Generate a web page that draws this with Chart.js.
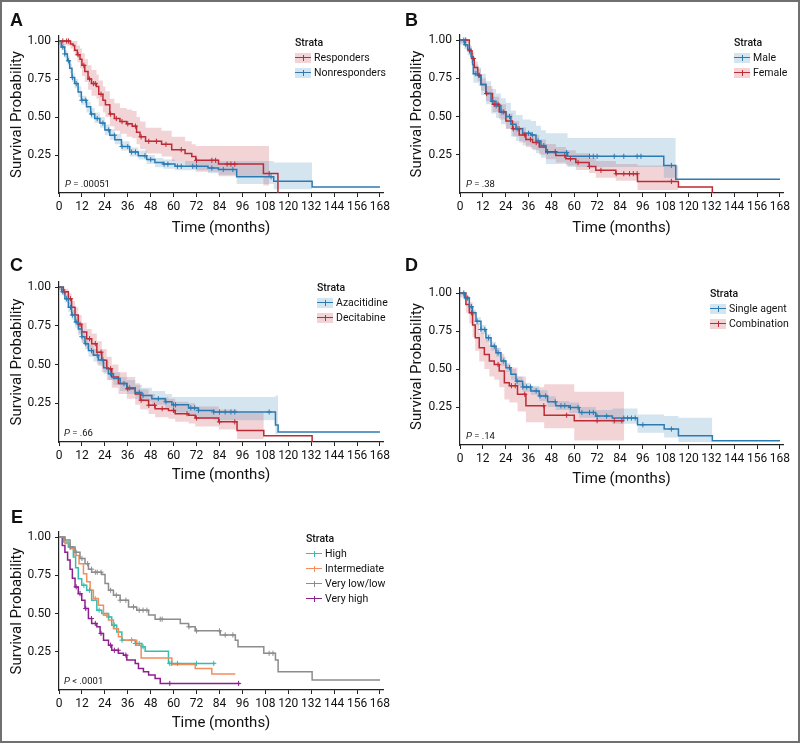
<!DOCTYPE html>
<html>
<head>
<meta charset="utf-8">
<script src="https://cdn.jsdelivr.net/npm/chart.js@4.4.1/dist/chart.umd.min.js"></script>
<style>
html, body { margin: 0; padding: 0; background: #fff; }
#fig { position: relative; width: 800px; height: 743px; overflow: hidden; font-family: Roboto, "Liberation Sans", Arial, sans-serif; color: #111; }
#frame { position: absolute; left: 0; top: 0; width: 800px; height: 743px; box-sizing: border-box; border: 2px solid #707070; pointer-events: none; }
canvas { position: absolute; }
.letter { position: absolute; font: bold 18px "Liberation Sans", Arial, sans-serif; line-height: 18px; }
.pv { position: absolute; font-size: 9.5px; line-height: 10px; }
.leg { position: absolute; font-size: 10.5px; line-height: 15px; white-space: nowrap; }
.leg .t { font-weight: 500; }
.key { display: inline-block; position: relative; width: 16px; height: 10px; vertical-align: -2px; margin-right: 3px; }
.key i { position: absolute; left: 0; right: 0; top: 4.3px; height: 1.4px; }
.key b { position: absolute; left: 7.5px; width: 1px; top: 2px; height: 6px; }
</style>
</head>
<body>
<div id="fig">
  <canvas id="cA" width="400" height="237" style="left:0;top:0"></canvas>
  <canvas id="cB" width="400" height="237" style="left:400px;top:0"></canvas>
  <canvas id="cC" width="400" height="234" style="left:0;top:250px"></canvas>
  <canvas id="cD" width="400" height="238" style="left:400px;top:250px"></canvas>
  <canvas id="cE" width="400" height="232" style="left:0;top:500px"></canvas>
  <div id="frame"></div>
</div>
<script>
// axis ticks
const xTicks = [0, 12, 24, 36, 48, 60, 72, 84, 96, 108, 120, 132, 144, 156, 168];
const yTicks = [0.25, 0.5, 0.75, 1.0];

// A: response
const respT = [0, 6, 7.4, 8.2, 9.6, 11, 12, 13.5, 15.2, 17, 19.6, 20.8, 23, 24.3, 26.6, 29, 31.9, 35.4, 38.3, 40.6, 42.4, 45.3, 53.7, 59, 66, 69.5, 71.6, 83.5, 107, 114.6];
const respS = [1, .98, .97, .94, .91, .88, .84, .80, .75, .72, .70, .65, .61, .58, .52, .49, .47, .455, .44, .40, .37, .34, .32, .285, .26, .24, .215, .19, .128, 0];
const respLo = [.97, .95, .93, .90, .86, .82, .77, .73, .68, .64, .62, .57, .53, .50, .44, .41, .39, .37, .36, .32, .29, .26, .24, .21, .18, .16, .14, .11, .05, 0];
const respHi = [1, 1, 1, 1, .97, .95, .92, .88, .84, .81, .78, .74, .70, .67, .62, .59, .56, .55, .54, .50, .47, .43, .41, .37, .34, .32, .31, .31, .31, 0];
const respCens = [2, 4, 5, 10, 13, 16, 18, 19, 22, 27, 30, 33, 36, 40, 43, 47, 51, 56, 64, 72, 80, 82, 88, 90, 92, 110];
const nonT = [0, 1.2, 3, 4.4, 5.6, 6.8, 8.2, 10, 11.7, 14.4, 16.6, 18.7, 21.4, 24, 26.6, 29.2, 32.7, 37, 41.5, 45.9, 50.2, 54.6, 60.7, 78, 83.5, 93, 112.4, 132.5, 168];
const nonS = [1, .96, .915, .87, .82, .76, .72, .665, .61, .567, .52, .49, .46, .415, .38, .35, .306, .27, .245, .22, .20, .19, .176, .165, .155, .107, .078, .04, .04];
const nonLo = [.98, .94, .89, .84, .79, .73, .69, .63, .58, .53, .49, .46, .43, .38, .35, .32, .28, .24, .22, .19, .17, .16, .15, .13, .12, .06, .025, 0, 0];
const nonHi = [1, .98, .94, .90, .85, .79, .75, .70, .64, .60, .56, .53, .50, .45, .42, .39, .34, .30, .28, .25, .23, .22, .21, .21, .21, .21, .20, 0, 0];
const nonCens = [2, 3, 5, 7, 9, 12, 14, 17, 20, 23, 26, 29, 33, 36, 38, 40, 45, 48, 55, 57, 62, 64, 70, 72, 80, 86, 91, 111];

// B: sex
const maleT = [0, 2.3, 4, 5.8, 6.6, 7, 9.8, 11, 13.6, 16.3, 18.9, 21.5, 24.1, 26.7, 29.4, 32.9, 37.2, 39.9, 42.5, 45.1, 56.5, 107, 113.3, 168];
const maleS = [1, .97, .94, .89, .84, .78, .76, .71, .65, .60, .57, .53, .50, .45, .42, .39, .38, .34, .31, .265, .24, .18, .09, .09];
const maleLo = [.97, .94, .90, .85, .79, .72, .70, .64, .58, .52, .49, .45, .42, .37, .34, .31, .29, .26, .23, .19, .17, .10, 0, 0];
const maleHi = [1, .99, .97, .93, .89, .84, .82, .78, .73, .68, .65, .62, .59, .54, .51, .48, .47, .44, .41, .39, .36, .36, 0, 0];
const maleCens = [2, 3, 8, 9, 17, 19, 22, 26, 30, 36, 38, 41, 44, 56, 68, 70, 72, 81, 86, 93, 95, 111];
const femT = [0, 4.9, 6.3, 7.5, 9.3, 11, 13.6, 17.1, 20.6, 24.1, 27.6, 31.1, 34.6, 38.1, 41.6, 45.1, 50.3, 55.6, 60.8, 67.8, 71.3, 81.8, 93.2, 114.7, 132.5];
const femS = [1, .93, .88, .82, .77, .71, .65, .58, .53, .47, .42, .38, .35, .33, .30, .27, .245, .224, .20, .174, .148, .126, .076, .04, 0];
const femLo = [.98, .90, .85, .79, .73, .67, .60, .53, .48, .42, .37, .33, .30, .28, .25, .22, .20, .18, .15, .13, .10, .08, .02, 0, 0];
const femHi = [1, .96, .92, .86, .81, .75, .70, .63, .58, .52, .47, .43, .40, .38, .35, .32, .30, .28, .26, .23, .21, .19, .18, 0, 0];
const femCens = [3, 5, 7, 10, 14, 18, 20, 23, 28, 31, 34, 37, 40, 46, 50, 55, 58, 62, 68, 74, 82, 86, 89, 91, 93, 111];

// C: agent
const azaT = [0, 1.4, 3.1, 4.9, 6.6, 8.4, 10.1, 11.9, 13.6, 15.4, 18, 20.6, 23.3, 25.9, 28.5, 32, 35.5, 39.9, 43.4, 48.6, 55.6, 59.1, 67.8, 73, 81, 113.3, 114.7, 168];
const azaS = [1, .97, .925, .87, .82, .775, .73, .68, .635, .59, .56, .53, .48, .44, .41, .377, .35, .32, .30, .28, .26, .24, .22, .204, .194, .11, .065, .065];
const azaLo = [.98, .95, .90, .84, .79, .74, .69, .64, .60, .55, .52, .49, .44, .40, .37, .33, .31, .28, .26, .24, .22, .19, .17, .15, .14, .05, 0, 0];
const azaHi = [1, .99, .95, .90, .85, .81, .77, .72, .67, .63, .60, .57, .52, .48, .45, .42, .40, .37, .35, .33, .31, .29, .29, .29, .29, .30, 0, 0];
const azaCens = [2, 4, 6, 7, 9, 12, 14, 17, 20, 23, 27, 34, 37, 42, 44, 52, 56, 60, 61, 69, 71, 73, 81, 84, 87, 90, 92, 110];
const deciT = [0, 2.3, 4.9, 6.6, 8.4, 10.1, 11.9, 14.5, 17.1, 19.8, 22.4, 25, 27.6, 31.1, 35.5, 39.9, 42.5, 46.9, 50.3, 57.3, 60.8, 67.8, 71.3, 83.6, 93.2, 107.2, 132.5];
const deciS = [1, .97, .925, .87, .82, .76, .71, .667, .635, .58, .527, .473, .42, .377, .344, .31, .27, .237, .215, .204, .183, .172, .155, .13, .075, .04, 0];
const deciLo = [.98, .94, .89, .82, .76, .70, .64, .60, .56, .50, .45, .40, .35, .31, .28, .24, .21, .18, .16, .15, .13, .12, .10, .08, .02, 0, 0];
const deciHi = [1, .99, .96, .91, .87, .82, .77, .73, .70, .65, .60, .55, .50, .45, .42, .38, .34, .31, .29, .28, .26, .25, .23, .21, .19, 0, 0];
const deciCens = [3, 6, 11, 16, 19, 22, 27, 36, 43, 47, 50, 54, 60, 67, 72, 84, 92];

// D: regimen
const singleT = [0, 2.3, 4.9, 6.6, 8.4, 11, 13.6, 16.3, 18.9, 21.5, 24.1, 26.7, 29.4, 32.9, 37.2, 41.6, 46, 50.3, 57.3, 62.6, 71.3, 80, 93.2, 107.2, 114.7, 132.5, 168];
const singleS = [1, .967, .91, .87, .815, .76, .705, .65, .607, .552, .509, .465, .42, .382, .356, .323, .284, .258, .247, .214, .19, .177, .133, .105, .061, .028, .028];
const singleLo = [.985, .95, .89, .85, .79, .73, .68, .62, .58, .52, .48, .43, .39, .35, .33, .29, .25, .23, .21, .18, .16, .14, .08, .05, .02, 0, 0];
const singleHi = [1, .98, .93, .89, .84, .79, .73, .68, .64, .58, .54, .50, .45, .41, .39, .36, .32, .29, .28, .25, .23, .24, .20, .19, .18, 0, 0];
const singleCens = [2, 4, 6, 9, 11, 13, 15, 18, 20, 23, 26, 30, 33, 35, 37, 40, 42, 45, 50, 53, 55, 58, 62, 64, 68, 70, 72, 77, 86, 88, 90, 92, 96, 111];
const combT = [0, 3.1, 4.9, 6.6, 8, 10.1, 12.8, 15.4, 18, 20.6, 23.3, 25.9, 30.2, 34.6, 44.2, 60, 86.2];
const combS = [1, .924, .87, .79, .705, .64, .596, .552, .53, .487, .41, .39, .334, .258, .196, .16, .16];
const combLo = [.97, .87, .80, .71, .62, .55, .50, .45, .43, .38, .30, .28, .22, .15, .11, .03, .03];
const combHi = [1, .98, .94, .88, .80, .74, .70, .66, .64, .60, .53, .51, .45, .38, .40, .35, .35];
const combCens = [6, 20, 27, 29, 34, 44, 56, 72, 81, 85];

// E: risk group
const highT = [0, 2.3, 4.9, 7.5, 8.7, 10.1, 11.9, 14.5, 17.1, 19.8, 22.4, 25.9, 27.6, 30.2, 32.9, 39.9, 43.4, 45.1, 57.3, 81.8];
const highS = [1, .967, .935, .87, .80, .728, .685, .652, .587, .522, .50, .478, .424, .38, .326, .304, .283, .254, .174, .174];
const highCens = [13, 16, 21, 26, 29, 33, 38, 40, 42, 44, 58, 59, 62, 72, 81];
const interT = [0, 3.1, 5.8, 8.4, 10.5, 12.8, 14.5, 16.3, 18, 20.6, 23.3, 25.9, 28.5, 31.1, 32.9, 40.7, 43, 59.1, 71.3, 80, 92.3];
const interS = [1, .957, .924, .88, .826, .76, .707, .652, .598, .554, .489, .457, .40, .348, .326, .293, .21, .167, .14, .104, .104];
const interCens = [19, 25, 38];
const lowT = [0, 3.1, 5.8, 8.4, 11, 13.6, 15.4, 17.1, 22.4, 24.1, 25.9, 28.5, 32, 36.4, 40.7, 46.9, 50.3, 63.5, 67.8, 71.3, 84.4, 92.3, 93.7, 107.2, 113.3, 114.7, 132.5, 168];
const lowS = [1, .98, .935, .90, .86, .826, .79, .77, .755, .696, .652, .62, .587, .543, .522, .49, .463, .435, .413, .387, .36, .326, .283, .24, .196, .12, .065, .065];
const lowCens = [6, 9, 12, 15, 17, 19, 20, 22, 27, 30, 32, 35, 39, 42, 44, 46, 53, 54, 68, 72, 84, 87, 91, 110, 112];
const vhighT = [0, 1.7, 3.1, 4.5, 5.8, 7, 8.4, 10.1, 11.9, 13.6, 15.4, 17.1, 19.8, 21.5, 23.3, 25.9, 27.6, 31.1, 33.7, 35.5, 39.9, 41.6, 44.2, 46.9, 50.3, 53, 94.9];
const vhighS = [1, .945, .90, .85, .79, .73, .674, .63, .587, .533, .467, .435, .413, .37, .326, .293, .26, .24, .228, .196, .174, .14, .12, .098, .076, .043, .043];
const vhighCens = [9, 11, 14, 17, 19, 22, 27, 29, 31, 35, 58, 94];

const RED = '#BE2A35', RED_BAND = 'rgba(190,42,53,0.2)';
const BLUE = '#2B7BB3', BLUE_BAND = 'rgba(43,123,179,0.2)';

function stepAt(T, S, t) {
  let v = S[0];
  for (let i = 0; i < T.length; i++) { if (T[i] <= t) v = S[i]; else break; }
  return v;
}

function curveSets(c) {
  const sets = [];
  if (c.lo) {
    const lo = [], hi = [];
    for (let i = 0; i < c.T.length && c.T[i] < c.ciEnd; i++) {
      lo.push({ x: c.T[i], y: c.lo[i] });
      hi.push({ x: c.T[i], y: c.hi[i] });
    }
    lo.push({ x: c.ciEnd, y: lo[lo.length - 1].y });
    hi.push({ x: c.ciEnd, y: hi[hi.length - 1].y });
    sets.push({ data: lo, borderColor: 'rgba(0,0,0,0)', borderWidth: 1, pointRadius: 0, fill: false, stepped: 'before', order: 10 });
    sets.push({ data: hi, borderColor: 'rgba(0,0,0,0)', borderWidth: 1, pointRadius: 0, fill: '-1', backgroundColor: c.band, stepped: 'before', order: 10 });
  }
  sets.push({ data: c.T.map((t, i) => ({ x: t, y: c.S[i] })), borderColor: c.color, borderWidth: 1.5, pointRadius: 0, fill: false, stepped: 'before', order: 5 });
  sets.push({ data: c.cens.map(t => ({ x: t, y: stepAt(c.T, c.S, t) })), showLine: false, pointStyle: 'cross', pointRadius: 2.6,
              pointBorderColor: c.color, pointBorderWidth: 1, pointBackgroundColor: c.color, borderColor: c.color, order: 1 });
  return sets;
}

function makePanel(id, curves, padTop, yWidth, xHeight) {
  const datasets = [];
  curves.forEach(c => datasets.push(...curveSets(c)));
  new Chart(document.getElementById(id), {
    type: 'line',
    data: { datasets },
    options: {
      responsive: false, animation: false, devicePixelRatio: 1,
      layout: { padding: { left: 8, right: 17, top: padTop, bottom: 0 } },
      plugins: { legend: { display: false }, tooltip: { enabled: false } },
      events: [],
      scales: {
        x: {
          type: 'linear', min: 0, max: 169.6,
          afterBuildTicks: s => { s.ticks = xTicks.map(v => ({ value: v })); },
          afterFit: s => { s.height = xHeight; },
          ticks: { autoSkip: false, maxRotation: 0, padding: 3, color: '#111', font: { size: 12, family: 'Roboto' }, callback: v => String(v) },
          grid: { drawOnChartArea: false, drawTicks: true, tickLength: 4, color: '#222', lineWidth: 1 },
          border: { display: true, color: '#222', width: 1.2 },
          title: { display: true, text: 'Time (months)', color: '#111', font: { size: 15, family: 'Roboto' }, padding: 0 }
        },
        y: {
          type: 'linear', min: 0, max: 1.033,
          afterBuildTicks: s => { s.ticks = yTicks.map(v => ({ value: v })); },
          afterFit: s => { s.width = yWidth; },
          ticks: { padding: 4, color: '#111', font: { size: 12, family: 'Roboto' }, callback: v => v.toFixed(2) },
          grid: { drawOnChartArea: false, drawTicks: true, tickLength: 4, color: '#222', lineWidth: 1 },
          border: { display: true, color: '#222', width: 1.2 },
          title: { display: true, text: 'Survival Probability', color: '#111', font: { size: 15, family: 'Roboto' }, padding: 0 }
        }
      }
    }
  });
}

makePanel('cA', [
  { T: nonT, S: nonS, lo: nonLo, hi: nonHi, ciEnd: 132.5, cens: nonCens, color: BLUE, band: BLUE_BAND },
  { T: respT, S: respS, lo: respLo, hi: respHi, ciEnd: 110, cens: respCens, color: RED, band: RED_BAND }
], 36, 51, 44);
makePanel('cB', [
  { T: maleT, S: maleS, lo: maleLo, hi: maleHi, ciEnd: 113.3, cens: maleCens, color: BLUE, band: BLUE_BAND },
  { T: femT, S: femS, lo: femLo, hi: femHi, ciEnd: 114.7, cens: femCens, color: RED, band: RED_BAND }
], 35, 52, 44);
makePanel('cC', [
  { T: azaT, S: azaS, lo: azaLo, hi: azaHi, ciEnd: 114.7, cens: azaCens, color: BLUE, band: BLUE_BAND },
  { T: deciT, S: deciS, lo: deciLo, hi: deciHi, ciEnd: 107.2, cens: deciCens, color: RED, band: RED_BAND }
], 32, 51, 42);
makePanel('cD', [
  { T: singleT, S: singleS, lo: singleLo, hi: singleHi, ciEnd: 132.5, cens: singleCens, color: BLUE, band: BLUE_BAND },
  { T: combT, S: combS, lo: combLo, hi: combHi, ciEnd: 86.2, cens: combCens, color: RED, band: RED_BAND }
], 38, 52, 43);
makePanel('cE', [
  { T: lowT, S: lowS, cens: lowCens, color: '#8C8C8C' },
  { T: interT, S: interS, cens: interCens, color: '#F28E5B' },
  { T: highT, S: highS, cens: highCens, color: '#35BDB0' },
  { T: vhighT, S: vhighS, cens: vhighCens, color: '#8E1F8E' }
], 32, 51, 42);

// panel letters, p-values, legends
const fig = document.getElementById('fig');
function put(cls, left, top, html) {
  const d = document.createElement('div');
  d.className = cls; d.style.left = left + 'px'; d.style.top = top + 'px';
  d.innerHTML = html; fig.appendChild(d);
}
put('letter', 10, 10.5, 'A');
put('letter', 405, 10.5, 'B');
put('letter', 10, 256, 'C');
put('letter', 405, 256, 'D');
put('letter', 11, 507.5, 'E');

put('pv', 65, 179, '<i>P</i> = .00051');
put('pv', 466, 179, '<i>P</i> = .38');
put('pv', 64, 428, '<i>P</i> = .66');
put('pv', 466, 431, '<i>P</i> = .14');
put('pv', 64, 676, '<i>P</i> &lt; .0001');

function legend(left, top, names, colors, bands) {
  let h = '<div class="t">Strata</div>';
  names.forEach((n, i) => {
    h += '<div><span class="key" style="background:' + (bands ? bands[i] : 'transparent') + '"><i style="background:' + colors[i] +
         '"></i><b style="background:' + colors[i] + '"></b></span>' + n + '</div>';
  });
  put('leg', left, top, h);
}
legend(295, 34.5, ['Responders', 'Nonresponders'], [RED, BLUE], [RED_BAND, BLUE_BAND]);
legend(734, 34.5, ['Male', 'Female'], [BLUE, RED], [BLUE_BAND, RED_BAND]);
legend(317, 279.5, ['Azacitidine', 'Decitabine'], [BLUE, RED], [BLUE_BAND, RED_BAND]);
legend(710, 285.5, ['Single agent', 'Combination'], [BLUE, RED], [BLUE_BAND, RED_BAND]);
legend(306, 530.5, ['High', 'Intermediate', 'Very low/low', 'Very high'], ['#35BDB0', '#F28E5B', '#8C8C8C', '#8E1F8E'], null);
</script>
</body>
</html>
